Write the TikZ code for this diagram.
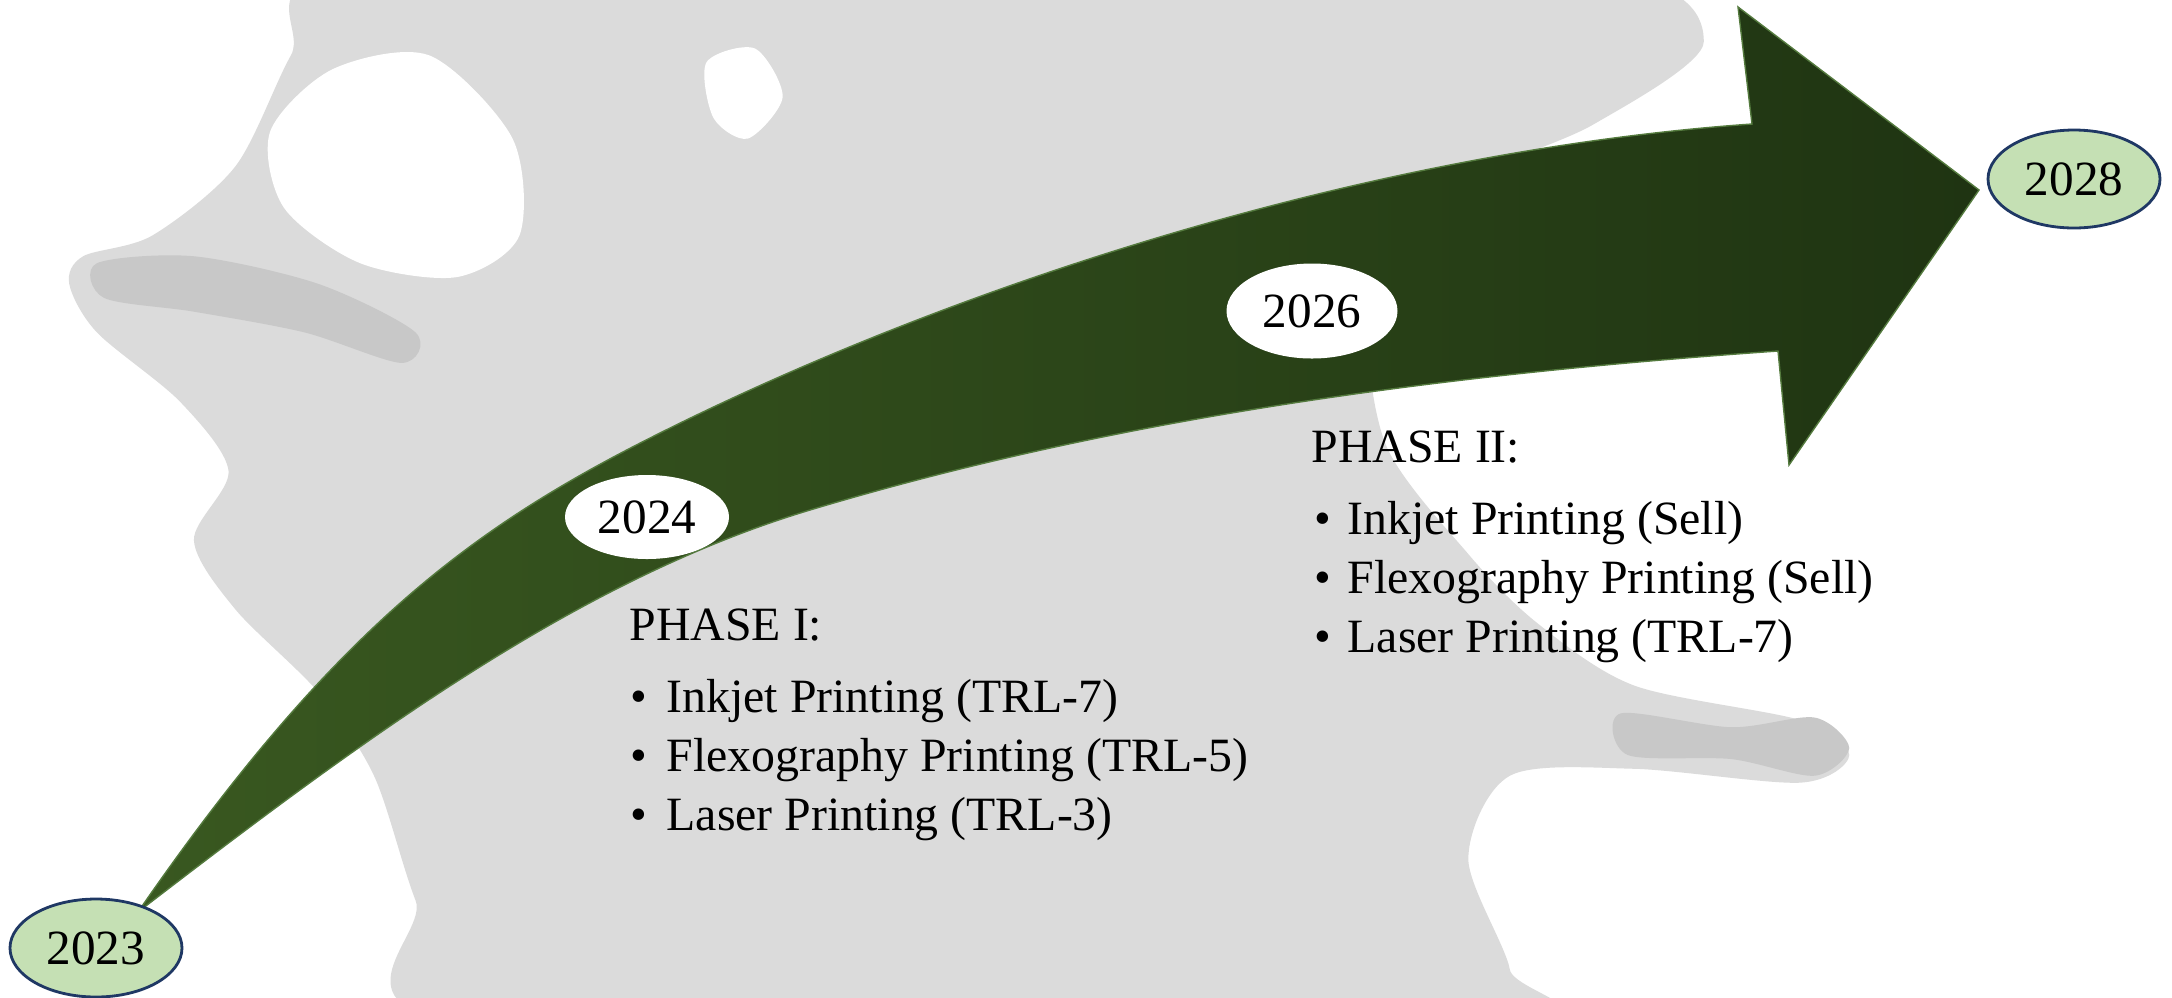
\documentclass[tikz,border=0pt]{standalone}
\usepackage{fontspec}
\setmainfont{Liberation Serif}
\usetikzlibrary{shapes.geometric}
\definecolor{arrowL}{RGB}{57,88,32}
\definecolor{arrowR}{RGB}{31,52,18}
\definecolor{rim}{RGB}{84,122,62}
\definecolor{yeargreen}{RGB}{197,224,180}
\definecolor{yearnavy}{RGB}{31,56,100}
\definecolor{splash}{RGB}{219,219,219}
\definecolor{splashdark}{RGB}{200,200,200}
\begin{document}
\begin{tikzpicture}[x=0.1mm,y=-0.1mm,
  yearend/.style={ellipse, draw=yearnavy, line width=0.8pt, fill=yeargreen,
    minimum width=17.2mm, minimum height=9.8mm, inner sep=0pt,
    font=\fontsize{14}{16}\selectfont},
  yearmid/.style={ellipse, fill=white, inner sep=0pt,
    font=\fontsize{14}{16}\selectfont},
  phase/.style={anchor=base west, inner sep=0pt, font=\fontsize{13.6}{16}\selectfont},
  bul/.style={anchor=base, inner sep=0pt, font=\fontsize{13.6}{16}\selectfont}]
\useasboundingbox (0,0) rectangle (2172,997);
\fill[white] (0,0) rectangle (2172,997);
% background splash
\begin{scope}
\clip (0,0) rectangle (2172,997);
\begin{scope}[scale=1.3852]
\fill[splash] plot[smooth cycle] coordinates {
 (60,185) (110,170) (170,120) (210,40) (250,-20) (700,-20) (1150,-20)
 (1230,30) (1150,90) (1040,140) (990,220) (1000,320) (1060,400) (1110,450)
 (1180,495) (1300,520) (1335,545) (1300,565) (1180,555) (1090,560)
 (1060,620) (1090,700) (1080,740) (340,740) (300,650) (270,560) (230,500)
 (170,440) (140,390) (165,340) (130,290) (70,240) (50,205)};
\fill[white] plot[smooth cycle] coordinates {
 (195,95) (240,50) (310,40) (370,100) (375,170) (330,200) (260,190) (205,150)};
\fill[white] plot[smooth cycle] coordinates {
 (510,45) (545,35) (565,70) (540,100) (515,85)};
\fill[splashdark] plot[smooth cycle] coordinates {
 (1170,515) (1250,525) (1310,518) (1335,540) (1310,560) (1250,548) (1175,545)};
\fill[splashdark] plot[smooth cycle] coordinates {
 (70,190) (140,185) (230,205) (300,240) (290,262) (220,240) (140,225) (75,215)};
\end{scope}
\end{scope}
% curved arrow
\path[left color=arrowL, right color=arrowR, draw=rim, line width=0.4pt, line join=miter]
  (138,912) .. controls (338,622) and (480,523) .. (660,433)
  .. controls (960,283) and (1372,150.6) .. (1752,124)
  -- (1738,7) -- (1979,190) -- (1789,465) -- (1778,351)
  .. controls (1458,373.4) and (1130,414) .. (810,510)
  .. controls (580,579) and (368,735) .. (138,912)
  -- cycle;
% year markers
\node[yearend] (y2023) at (96,948) {2023};
\node[yearend] (y2028) at (2074,179) {2028};
\node[yearmid, minimum width=16.4mm, minimum height=8.4mm] (y2024) at (647,517) {2024};
\node[yearmid, minimum width=17.1mm, minimum height=9.5mm] (y2026) at (1312,311) {2026};
% phase I
\node[phase] (p1) at (629,640) {PHASE I:};
\node[bul] (b11) at (639,712) {\textbullet};
\node[phase] (i11) at (666,712) {Inkjet Printing (TRL-7)};
\node[bul] (b12) at (639,771) {\textbullet};
\node[phase] (i12) at (666,771) {Flexography Printing (TRL-5)};
\node[bul] (b13) at (639,830) {\textbullet};
\node[phase] (i13) at (666,830) {Laser Printing (TRL-3)};
% phase II
\node[phase] (p2) at (1311,462) {PHASE II:};
\node[bul] (b21) at (1323,534) {\textbullet};
\node[phase] (i21) at (1347,534) {Inkjet Printing (Sell)};
\node[bul] (b22) at (1323,593) {\textbullet};
\node[phase] (i22) at (1347,593) {Flexography Printing (Sell)};
\node[bul] (b23) at (1323,652) {\textbullet};
\node[phase] (i23) at (1347,652) {Laser Printing (TRL-7)};
\end{tikzpicture}
\end{document}
